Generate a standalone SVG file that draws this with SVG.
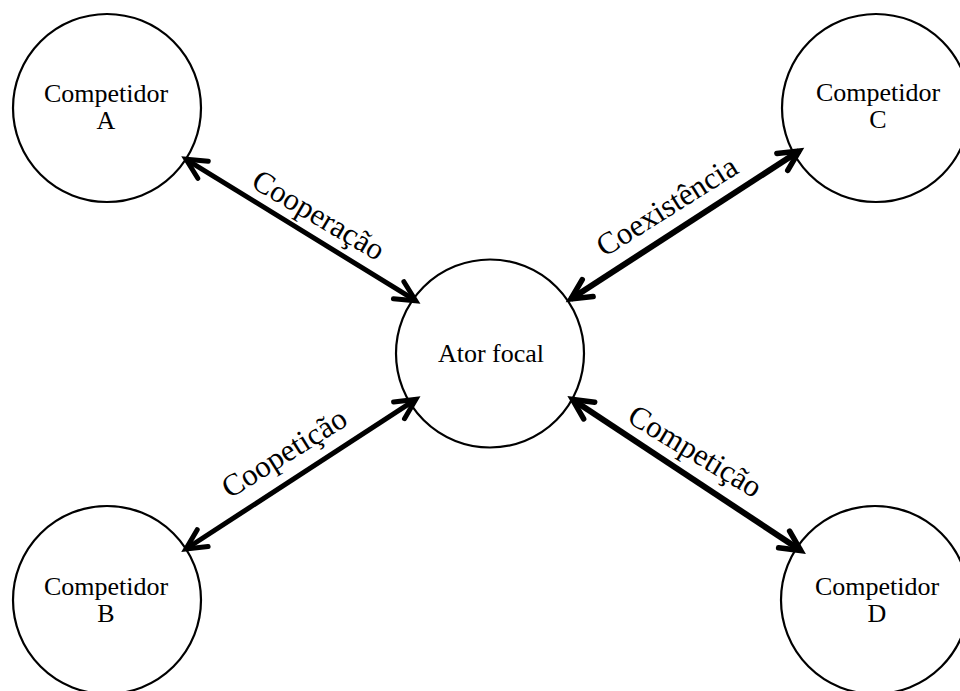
<svg xmlns="http://www.w3.org/2000/svg" width="960" height="691" viewBox="0 0 960 691">
  <style>
    .node circle { fill: #fff; stroke: #000; stroke-width: 2.2; }
    .node text { font-family: "Liberation Serif", "Times New Roman", serif; font-size: 26px; fill: #000; text-anchor: middle; }
    .link { fill: none; stroke: #000; stroke-linecap: butt; }
    .thin { stroke-width: 5; marker-start: url(#ah5); marker-end: url(#ah5); }
    .thick { stroke-width: 6; marker-start: url(#ah6); marker-end: url(#ah6); }
    .label { font-family: "Liberation Serif", "Times New Roman", serif; font-size: 31px; fill: #000; text-anchor: middle; }
  </style>
  <defs>
    <marker id="ah5" markerUnits="userSpaceOnUse" orient="auto-start-reverse" viewBox="-30 -15 40 30" markerWidth="40" markerHeight="30" refX="0" refY="0" overflow="visible">
      <path d="M-20,-10 L0,0 L-20,10" fill="none" stroke="#000" stroke-width="5" stroke-linecap="round"/>
    </marker>
    <marker id="ah6" markerUnits="userSpaceOnUse" orient="auto-start-reverse" viewBox="-30 -15 40 30" markerWidth="40" markerHeight="30" refX="0" refY="0" overflow="visible">
      <path d="M-20,-10 L0,0 L-20,10" fill="none" stroke="#000" stroke-width="5.5" stroke-linecap="round"/>
    </marker>
  </defs>
  <rect width="960" height="691" fill="#fff"/>

  <g id="nodes">
    <g id="competidor-a" class="node">
      <circle cx="107" cy="108" r="94"/>
      <text x="106" y="102">Competidor</text>
      <text x="106" y="129">A</text>
    </g>
    <g id="competidor-c" class="node">
      <circle cx="876" cy="108" r="94"/>
      <text x="878" y="101">Competidor</text>
      <text x="878" y="128">C</text>
    </g>
    <g id="competidor-b" class="node">
      <circle cx="107" cy="600" r="94"/>
      <text x="106" y="595">Competidor</text>
      <text x="106" y="622">B</text>
    </g>
    <g id="competidor-d" class="node">
      <circle cx="875" cy="600" r="94"/>
      <text x="877" y="595">Competidor</text>
      <text x="877" y="622">D</text>
    </g>
    <g id="ator-focal" class="node">
      <circle cx="490" cy="353.5" r="94"/>
      <text x="491" y="362">Ator focal</text>
    </g>
  </g>

  <g id="connectors">
    <line class="link thin" x1="186" y1="159.3" x2="415.7" y2="300.7"/>
    <line class="link thick" x1="570.9" y1="299" x2="799.1" y2="151"/>
    <line class="link thin" x1="185.9" y1="549" x2="415.8" y2="399.4"/>
    <line class="link thick" x1="572.5" y1="399.5" x2="800.8" y2="550.5"/>
    <text class="label" transform="translate(313.4,223.8) rotate(30.5)">Cooperação</text>
    <text class="label" transform="translate(672.3,214.8) rotate(-32.2)">Coexistência</text>
    <text class="label" transform="translate(289.5,461.5) rotate(-32)">Coopetição</text>
    <text class="label" transform="translate(689.9,459.9) rotate(31)">Competição</text>
  </g>
</svg>
